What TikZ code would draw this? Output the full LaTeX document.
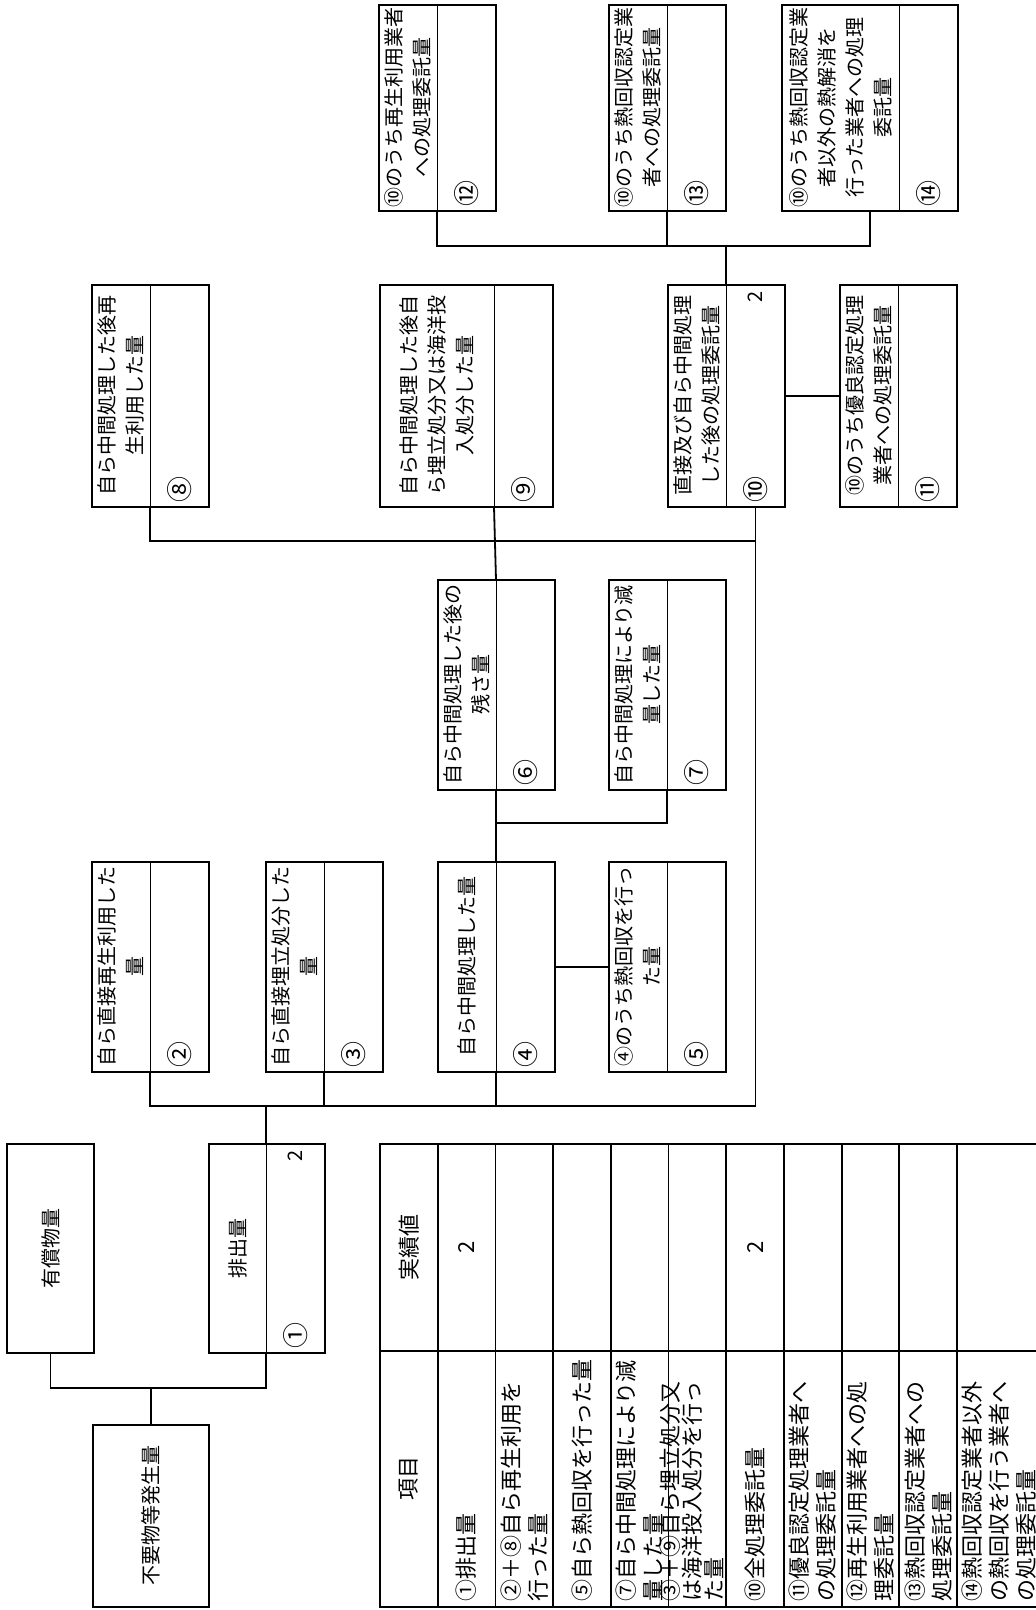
\documentclass[tikz,border=0pt]{standalone}
\usepackage{fontspec}
\setmainfont{Noto Sans CJK JP}
\usetikzlibrary{positioning,calc}

\begin{document}
\begin{tikzpicture}[rotate=90, transform shape, x=0.5pt, y=0.5pt, node distance=0pt,
    every node/.style={font=\fontsize{10}{14}\selectfont, outer sep=0pt},
    txt/.style={draw, line width=0.5pt, align=center, inner sep=1pt, anchor=north west, minimum height=29pt},
    val/.style={draw, line width=0.5pt, inner sep=0pt, minimum height=29.5pt},
    single/.style={draw, line width=1.2pt, align=center, anchor=north west},
    num/.style={inner sep=2pt, anchor=west, font=\fontsize{13}{13}\selectfont},
    amt/.style={inner sep=3pt, anchor=east},
    boxframe/.style={line width=1.2pt},
    link/.style={line width=0.9pt},
    icell/.style={draw, line width=0.9pt, anchor=north west, text width=123pt, inner xsep=2.5pt, inner ysep=0pt,
      minimum height=28.85pt, align=left, font=\fontsize{11}{13.5}\selectfont},
    acell/.style={draw, line width=0.9pt, minimum width=103.5pt, minimum height=28.85pt, inner sep=0pt,
      font=\fontsize{11}{13.5}\selectfont}]
  \useasboundingbox (0,0) rectangle (1610,-1036);

  % generation and discharge
  \node[single, minimum width=91pt, minimum height=58pt] (fuyo) at (3,-93) {不要物等発生量};
  \node[single, minimum width=104.5pt, minimum height=43.5pt] (yusho) at (257,-7) {有償物量};
  \node[txt, minimum width=104.5pt, minimum height=28.5pt] (t1) at (257,-209) {排出量};
  \node[val, minimum width=104.5pt, below=of t1] (v1) {};

  % own treatment
  \node[txt, minimum width=105pt] (t2) at (538,-92) {自ら直接再生利用した\\量};
  \node[val, minimum width=105pt, below=of t2] (v2) {};
  \node[txt, minimum width=105pt] (t3) at (538,-266) {自ら直接埋立処分した\\量};
  \node[val, minimum width=105pt, below=of t3] (v3) {};
  \node[txt, minimum width=105pt] (t4) at (538,-438) {自ら中間処理した量};
  \node[val, minimum width=105pt, below=of t4] (v4) {};
  \node[txt, minimum width=105pt] (t5) at (538,-609) {④のうち熱回収を行っ\\た量};
  \node[val, minimum width=105pt, below=of t5] (v5) {};
  \node[txt, minimum width=105pt] (t6) at (820,-438) {自ら中間処理した後の\\残さ量};
  \node[val, minimum width=105pt, below=of t6] (v6) {};
  \node[txt, minimum width=105pt] (t7) at (820,-609) {自ら中間処理により減\\量した量};
  \node[val, minimum width=105pt, below=of t7] (v7) {};

  % after treatment
  \node[txt, minimum width=111pt] (t8) at (1103,-92) {自ら中間処理した後再\\生利用した量};
  \node[val, minimum width=111pt, below=of t8] (v8) {};
  \node[txt, minimum width=111pt, minimum height=57pt] (t9) at (1103,-380) {自ら中間処理した後自\\ら埋立処分又は海洋投\\入処分した量};
  \node[val, minimum width=111pt, below=of t9] (v9) {};
  \node[txt, minimum width=111pt] (t10) at (1103,-668) {直接及び自ら中間処理\\した後の処理委託量};
  \node[val, minimum width=111pt, below=of t10] (v10) {};
  \node[txt, minimum width=111pt] (t11) at (1103,-840) {⑩のうち優良認定処理\\業者への処理委託量};
  \node[val, minimum width=111pt, below=of t11] (v11) {};

  % consignment
  \node[txt, minimum width=103pt] (t12) at (1399,-379) {⑩のうち再生利用業者\\への処理委託量};
  \node[val, minimum width=103pt, below=of t12] (v12) {};
  \node[txt, minimum width=103pt] (t13) at (1399,-609) {⑩のうち熱回収認定業\\者への処理委託量};
  \node[val, minimum width=103pt, below=of t13] (v13) {};
  \node[txt, minimum width=103pt, minimum height=58.5pt] (t14) at (1399,-782) {⑩のうち熱回収認定業\\者以外の熱解消を\\行った業者への処理\\委託量};
  \node[val, minimum width=103pt, below=of t14] (v14) {};

  \foreach \b in {1,...,14}
    \draw[boxframe] (t\b.north west) rectangle (v\b.south east);
  \foreach \b/\c in {1/①,2/②,3/③,4/④,5/⑤,6/⑥,7/⑦,8/⑧,9/⑨,10/⑩,11/⑪,12/⑫,13/⑬,14/⑭}
    \node[num] (c\b) at (v\b.west) {\c};
  \node[amt] (a1) at (v1.east) {2};
  \node[amt] (a10) at (v10.east) {2};

  % connectors
  \draw[link] (fuyo.east) -- ++(37,0) coordinate (j0);
  \draw[link] (yusho.west) -| (j0) |- (t1.south west);
  \draw[link] (t1.south east) -- ++(38,0) coordinate (j1);
  \draw[link] (t2.south west) -| (j1 |- v10.west) -- (v10.west);
  \draw[link] (t3.south west) -- (t3.south west -| j1);
  \draw[link] (t4.south west) -- (t4.south west -| j1);
  \draw[link] (v4.south) -- (t5.north);
  \draw[link] (t4.south east) -- (t6.south west);
  \draw[link] (t7.south west) -- ++(-33,0) coordinate (j2) -- (j2 |- t6.south west);
  \draw[link] (t6.south east) -- (t9.south west);
  \draw[link] (t8.south west) -- ++(-34,0) coordinate (j3) -- (j3 |- v10.west);
  \draw[link] (v10.south) -- (t11.north);
  \draw[link] (t10.south east) -- ++(39,0) coordinate (j4);
  \draw[link] (t12.south west) -| (j4);
  \draw[link] (t13.south west) -- (t13.south west -| j4);
  \draw[link] (j4) |- ($(t14.north west)!.5!(v14.south west)$);

  % summary table
  \node[icell, align=center] (item0) at (3,-380) {項目};
  \node[acell, right=of item0] (amt0) {実績値};
  \foreach \i/\itm/\amnt in {
      1/①排出量/2,
      2/{②＋⑧自ら再生利用を\\行った量}/{},
      3/⑤自ら熱回収を行った量/{},
      4/{⑦自ら中間処理により減\\量した量}/{},
      5/{\smash{\parbox[c]{123pt}{\fontsize{11}{11}\selectfont ③＋⑨自ら埋立処分又\\は海洋投入処分を行っ\\た量}}}/{},
      6/⑩全処理委託量/2,
      7/{⑪優良認定処理業者へ\\の処理委託量}/{},
      8/{⑫再生利用業者への処\\理委託量}/{},
      9/{⑬熱回収認定業者への\\処理委託量}/{}} {
    \node[icell] (item\i) at (3,{-380-57.7*\i}) {\itm};
    \node[acell, right=of item\i] (amt\i) {\amnt};
  }
  \node[icell, minimum height=42pt] (item10) at (3,-957) {⑭熱回収認定業者以外\\の熱回収を行う業者へ\\の処理委託量};
  \node[acell, minimum height=42pt, right=of item10] (amt10) {};
\end{tikzpicture}
\end{document}
